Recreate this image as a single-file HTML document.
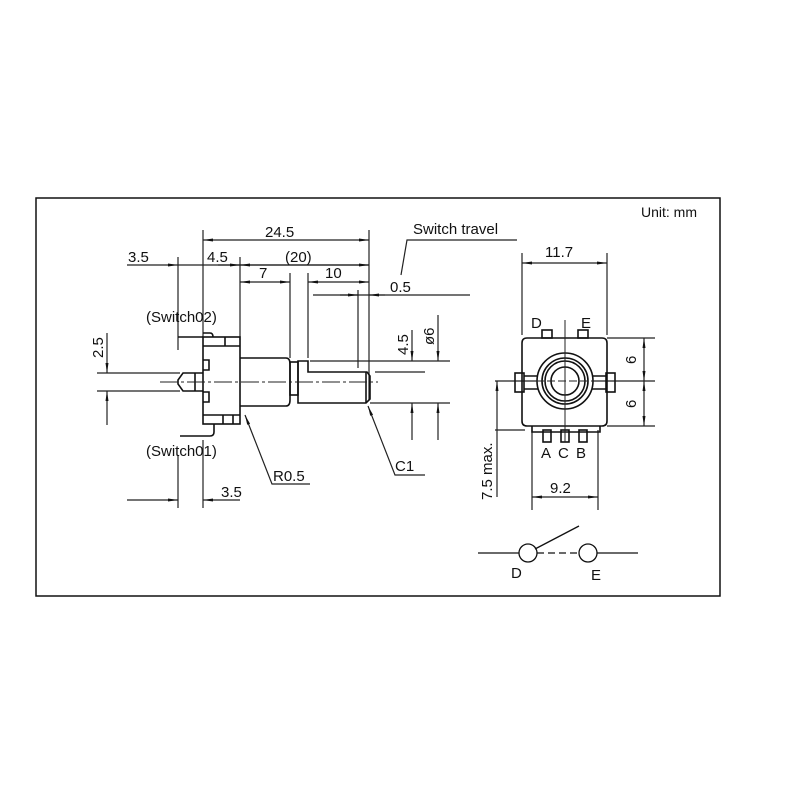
<!DOCTYPE html>
<html><head><meta charset="utf-8"><style>
html,body{margin:0;padding:0;background:#fff;}
svg{display:block;}
text{font-family:"Liberation Sans",sans-serif;fill:#111;}
</style></head><body>
<svg width="800" height="800" viewBox="0 0 800 800" xmlns="http://www.w3.org/2000/svg">
<defs>
<marker id="a" viewBox="0 0 10 6" refX="10" refY="3" markerWidth="10" markerHeight="6" orient="auto-start-reverse" markerUnits="userSpaceOnUse"><path d="M0,1.5 L10,3 L0,4.5z" fill="#111"/></marker>
</defs>
<rect x="36" y="198" width="684" height="398" fill="none" stroke="#111" stroke-width="1.5"/>
<text x="641" y="217" font-size="14">Unit: mm</text>
<g stroke="#222" stroke-width="1.2" fill="none">
<line x1="203" y1="230" x2="203" y2="337"/>
<line x1="369" y1="230" x2="369" y2="400"/>
<line x1="240" y1="257" x2="240" y2="340"/>
<line x1="178" y1="257" x2="178" y2="350"/>
<line x1="290" y1="273" x2="290" y2="358"/>
<line x1="308" y1="273" x2="308" y2="358"/>
<line x1="358" y1="290" x2="358" y2="368"/>
<line x1="203" y1="240" x2="369" y2="240" marker-start="url(#a)" marker-end="url(#a)"/>
<line x1="127" y1="265" x2="178" y2="265" marker-end="url(#a)"/>
<line x1="178" y1="265" x2="369" y2="265"/>
<line x1="218" y1="265" x2="240" y2="265" marker-end="url(#a)"/>
<line x1="240" y1="265" x2="369" y2="265" marker-start="url(#a)" marker-end="url(#a)"/>
<line x1="240" y1="282" x2="290" y2="282" marker-start="url(#a)" marker-end="url(#a)"/>
<line x1="308" y1="282" x2="369" y2="282" marker-start="url(#a)" marker-end="url(#a)"/>
<line x1="313" y1="295" x2="470" y2="295"/>
<line x1="340" y1="295" x2="358" y2="295" marker-end="url(#a)"/>
<line x1="385" y1="295" x2="369" y2="295" marker-end="url(#a)"/>
<polyline points="401,275 407,240 517,240"/>
<line x1="97" y1="373" x2="180" y2="373"/>
<line x1="97" y1="391" x2="180" y2="391"/>
<line x1="107" y1="333" x2="107" y2="373" marker-end="url(#a)"/>
<line x1="107" y1="425" x2="107" y2="391" marker-end="url(#a)"/>
<line x1="310" y1="361" x2="450" y2="361"/>
<line x1="370" y1="403" x2="450" y2="403"/>
<line x1="412" y1="330" x2="412" y2="361" marker-end="url(#a)"/>
<line x1="412" y1="440" x2="412" y2="403" marker-end="url(#a)"/>
<line x1="438" y1="315" x2="438" y2="361" marker-end="url(#a)"/>
<line x1="438" y1="440" x2="438" y2="403" marker-end="url(#a)"/>
<line x1="375" y1="372" x2="425" y2="372"/>
<line x1="178" y1="455" x2="178" y2="508"/>
<line x1="203" y1="440" x2="203" y2="508"/>
<line x1="127" y1="500" x2="178" y2="500" marker-end="url(#a)"/>
<line x1="240" y1="500" x2="203" y2="500" marker-end="url(#a)"/>
<polyline points="310,484 272,484 245,415" marker-end="url(#a)"/>
<polyline points="425,475 395,475 368,406" marker-end="url(#a)"/>
</g>
<g stroke="#111" stroke-width="1.6" fill="none">
<rect x="203" y="337" width="37" height="87"/>
<line x1="203" y1="346" x2="240" y2="346"/>
<line x1="203" y1="415" x2="240" y2="415"/>
<line x1="225" y1="346" x2="225" y2="337"/>
<line x1="223" y1="415" x2="223" y2="424"/>
<line x1="233" y1="415" x2="233" y2="424"/>
<polyline points="203,360 209,360 209,370 203,370"/>
<polyline points="203,392 209,392 209,402 203,402"/>
<polyline points="178,337 203,337"/>
<path d="M203,333 L210,333 Q213,333 213,337"/>
<path d="M180,436 L210,436 Q214,436 214,432 L214,424"/>
<path d="M203,373 L183,373 L178,380 L178,384 L183,391 L203,391"/>
<line x1="195" y1="373" x2="195" y2="391"/>
<path d="M240,358 L286,358 Q290,358 290,364 L290,400 Q290,406 286,406 L240,406"/>
<rect x="290" y="362" width="8" height="33"/>
<path d="M298,361 L308,361 L308,372 L367,372 L370,376 L370,399 L366,403 L298,403 Z"/>
<line x1="366" y1="372" x2="366" y2="403"/>
</g>
<line x1="160" y1="382" x2="378" y2="382" stroke="#222" stroke-width="1" stroke-dasharray="18,3,3,3"/>
<g font-size="15">
<text x="265" y="237">24.5</text>
<text x="128" y="262">3.5</text>
<text x="207" y="262">4.5</text>
<text x="285" y="262">(20)</text>
<text x="259" y="278">7</text>
<text x="325" y="278">10</text>
<text x="390" y="292">0.5</text>
<text x="413" y="234">Switch travel</text>
<text x="146" y="322">(Switch02)</text>
<text x="146" y="456">(Switch01)</text>
<text x="273" y="481">R0.5</text>
<text x="395" y="471">C1</text>
<text x="221" y="497">3.5</text>
<text transform="translate(103,358) rotate(-90)">2.5</text>
<text transform="translate(408,355) rotate(-90)">4.5</text>
<text transform="translate(434,345) rotate(-90)">ø6</text>
</g>
<g stroke="#222" stroke-width="1.2" fill="none">
<line x1="522" y1="253" x2="522" y2="335"/>
<line x1="607" y1="253" x2="607" y2="335"/>
<line x1="522" y1="263" x2="607" y2="263" marker-start="url(#a)" marker-end="url(#a)"/>
<line x1="607" y1="338" x2="655" y2="338"/>
<line x1="495" y1="381" x2="655" y2="381"/>
<line x1="607" y1="426" x2="655" y2="426"/>
<line x1="644" y1="360" x2="644" y2="338" marker-end="url(#a)"/>
<line x1="644" y1="360" x2="644" y2="381" marker-end="url(#a)"/>
<line x1="644" y1="403" x2="644" y2="381" marker-end="url(#a)"/>
<line x1="644" y1="403" x2="644" y2="426" marker-end="url(#a)"/>
<line x1="495" y1="430" x2="525" y2="430"/>
<line x1="497" y1="497" x2="497" y2="381" marker-end="url(#a)"/>
<line x1="532" y1="430" x2="532" y2="510"/>
<line x1="598" y1="430" x2="598" y2="510"/>
<line x1="532" y1="497" x2="598" y2="497" marker-start="url(#a)" marker-end="url(#a)"/>
</g>
<g stroke="#111" stroke-width="1.6" fill="none">
<path d="M527,338 L602,338 Q607,338 607,343 L607,421 Q607,426 602,426 L527,426 Q522,426 522,421 L522,343 Q522,338 527,338Z"/>
<rect x="515" y="373" width="9" height="19"/>
<rect x="606" y="373" width="9" height="19"/>
<line x1="524" y1="376" x2="606" y2="376"/>
<line x1="524" y1="389" x2="606" y2="389"/>
<circle cx="565" cy="381" r="28" fill="#fff"/>
<circle cx="565" cy="381" r="23"/>
<circle cx="565" cy="381" r="20"/>
<circle cx="565" cy="381" r="14"/>
<rect x="542" y="330" width="10" height="8"/>
<rect x="578" y="330" width="10" height="8"/>
<polyline points="532,426 532,432 600,432 600,426"/>
<rect x="543" y="430" width="8" height="12"/>
<rect x="561" y="430" width="8" height="12"/>
<rect x="579" y="430" width="8" height="12"/>
</g>
<line x1="565" y1="320" x2="565" y2="442" stroke="#222" stroke-width="1"/>
<line x1="536" y1="381" x2="594" y2="381" stroke="#222" stroke-width="1" stroke-dasharray="8,3"/>
<g font-size="15">
<text x="545" y="257">11.7</text>
<text x="531" y="328">D</text>
<text x="581" y="328">E</text>
<text x="541" y="458">A</text>
<text x="558" y="458">C</text>
<text x="576" y="458">B</text>
<text x="550" y="493">9.2</text>
<text transform="translate(492,500) rotate(-90)">7.5 max.</text>
<text transform="translate(636,364) rotate(-90)">6</text>
<text transform="translate(636,408) rotate(-90)">6</text>
<text x="511" y="578">D</text>
<text x="591" y="580">E</text>
</g>
<g stroke="#111" stroke-width="1.3" fill="none">
<line x1="478" y1="553" x2="519" y2="553"/>
<circle cx="528" cy="553" r="9"/>
<line x1="537" y1="553" x2="579" y2="553" stroke-dasharray="7,4"/>
<circle cx="588" cy="553" r="9"/>
<line x1="597" y1="553" x2="638" y2="553"/>
<line x1="535" y1="549" x2="579" y2="526"/>
</g>
</svg>
</body></html>
